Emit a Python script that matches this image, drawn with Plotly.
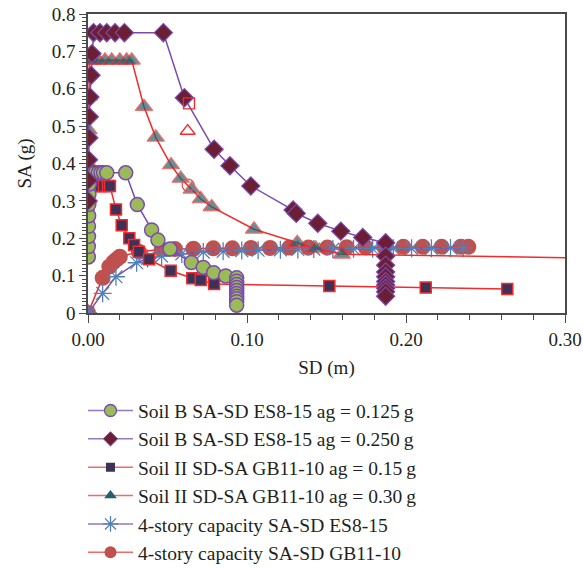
import plotly.graph_objects as go

# ---------------- data ----------------
# Soil B SA-SD ES8-15 ag = 0.125g
es125_sd = [0.0002, 0.0002, 0.0003, 0.0003, 0.0004, 0.0005, 0.0006, 0.0008, 0.0012,
            0.0025, 0.0045, 0.0065, 0.0082, 0.0098, 0.0118, 0.0237,
            0.031, 0.040, 0.044, 0.0516, 0.065, 0.0725, 0.079, 0.0866,
            0.0935, 0.0935, 0.0935, 0.0935, 0.0935, 0.0935, 0.0935, 0.0935, 0.0935, 0.0935]
es125_sa = [0.150, 0.178, 0.205, 0.232, 0.260, 0.290, 0.318, 0.345, 0.375,
            0.375, 0.375, 0.375, 0.375, 0.375, 0.375, 0.375,
            0.290, 0.222, 0.195, 0.171, 0.135, 0.122, 0.108, 0.099,
            0.094, 0.085, 0.076, 0.068, 0.060, 0.052, 0.045, 0.038, 0.030, 0.021]

# Soil B SA-SD ES8-15 ag = 0.250g
es250_sd = [0.0001, 0.0002, 0.0003, 0.0005, 0.0008, 0.0012, 0.0019, 0.0025,
            0.0035, 0.0075, 0.0118, 0.017, 0.0229, 0.0474,
            0.0606, 0.0793, 0.0893, 0.1024, 0.129, 0.131, 0.1445, 0.159, 0.1728,
            0.1872, 0.1872, 0.1872, 0.1872, 0.1872, 0.1872, 0.1872, 0.1872, 0.1872, 0.1872]
es250_sa = [0.300, 0.355, 0.410, 0.469, 0.525, 0.578, 0.636, 0.694,
            0.750, 0.750, 0.750, 0.750, 0.750, 0.750,
            0.576, 0.438, 0.394, 0.340, 0.2755, 0.2665, 0.240, 0.219, 0.202,
            0.188, 0.152, 0.128, 0.110, 0.097, 0.084, 0.075, 0.066, 0.057, 0.045]

# Soil II SD-SA GB11-10 ag = 0.15g
gb15_sd = [0.0001, 0.0001, 0.0002, 0.0002, 0.0003,
           0.002, 0.004, 0.006, 0.008, 0.010, 0.0125, 0.0138,
           0.0176, 0.0212, 0.026, 0.029, 0.032, 0.0384, 0.052, 0.0656, 0.0709, 0.0793,
           0.1518, 0.2124, 0.2637]
gb15_sa = [0.153, 0.200, 0.245, 0.290, 0.340,
           0.340, 0.340, 0.340, 0.340, 0.340, 0.340, 0.340,
           0.277, 0.235, 0.200, 0.182, 0.164, 0.1436, 0.113, 0.093, 0.088, 0.0775,
           0.072, 0.068, 0.064]

# Soil II SD-SA GB11-10 ag = 0.30g
gb30_sd = [0.0001, 0.0002, 0.0003, 0.0005, 0.0008,
           0.0033, 0.0065, 0.0107, 0.0149, 0.020, 0.0243, 0.0275,
           0.0352, 0.0426, 0.0522, 0.0583, 0.0652, 0.0709, 0.0778, 0.1044,
           0.1316, 0.1432, 0.1596, 0.30]
gb30_sa = [0.306, 0.400, 0.490, 0.580, 0.676,
           0.676, 0.676, 0.676, 0.676, 0.676, 0.676, 0.676,
           0.552, 0.470, 0.396, 0.360, 0.331, 0.305, 0.284, 0.224,
           0.188, 0.173, 0.157, 0.148]

# 4-story capacity SA-SD ES8-15
capes_sd = [0.0, 0.0092, 0.0176, 0.0306, 0.0375, 0.0463, 0.059,
            0.0725, 0.085, 0.0967, 0.107, 0.121, 0.132, 0.142, 0.154,
            0.167, 0.179, 0.192, 0.2035, 0.216, 0.228, 0.236]
capes_sa = [0.0, 0.0526, 0.097, 0.1345, 0.146, 0.152, 0.158,
            0.163, 0.165, 0.167, 0.168, 0.169, 0.170, 0.171, 0.171,
            0.172, 0.172, 0.173, 0.173, 0.173, 0.174, 0.174]

# 4-story capacity SA-SD GB11-10
capgb_sd = [0.0, 0.0092, 0.0134, 0.0159, 0.018, 0.020, 0.032, 0.0463, 0.0547,
            0.0663, 0.0788, 0.0908, 0.1025, 0.1145, 0.1266, 0.1386, 0.1505,
            0.1627, 0.1746, 0.1864, 0.1983, 0.2105, 0.2224, 0.2344, 0.2392]
capgb_sa = [0.0, 0.094, 0.124, 0.1355, 0.1436, 0.1505, 0.164, 0.170, 0.171,
            0.172, 0.173, 0.173, 0.174, 0.174, 0.175, 0.175, 0.175,
            0.176, 0.176, 0.176, 0.177, 0.177, 0.177, 0.177, 0.177]

# performance points (hollow markers)
perf_sq_sd, perf_sq_sa = [0.0635], [0.561]
perf_tri_sd, perf_tri_sa = [0.0627], [0.487]
perf_cir_sd, perf_cir_sa = [0.063], [0.342]

names = ["Soil B SA-SD ES8-15 ag = 0.125\u2009g",
         "Soil B SA-SD ES8-15 ag = 0.250\u2009g",
         "Soil II SD-SA GB11-10 ag = 0.15\u2009g",
         "Soil II SD-SA GB11-10 ag = 0.30\u2009g",
         "4-story capacity SA-SD ES8-15",
         "4-story capacity SA-SD GB11-10"]

x_tickvals = [0.0, 0.1, 0.2, 0.3]
x_ticktext = ["0.00", "0.10", "0.20", "0.30"]
y_tickvals = [0, 0.1, 0.2, 0.3, 0.4, 0.5, 0.6, 0.7, 0.8]
y_ticktext = ["0", "0.1", "0.2", "0.3", "0.4", "0.5", "0.6", "0.7", "0.8"]

# ---------------- styles ----------------
PURPLE = "#7A4BAE"
RED = "#F22B2B"
LEG_PURPLE = "#9479C0"
LEG_RED = "#F06A6A"
FONT = "Liberation Serif"

series = [
    # (x, y, name, line colour, marker dict for plot, legend marker dict, legend line colour)
    dict(x=capgb_sd, y=capgb_sa, idx=5, line=RED,
         marker=dict(symbol="circle", size=16, color="#C0504D", line=dict(width=0)),
         leg=dict(symbol="circle", size=12, color="#C0504D", line=dict(width=0)), lc=LEG_RED),
    dict(x=capes_sd, y=capes_sa, idx=4, line=PURPLE,
         marker=dict(symbol="asterisk-open", size=15, color="#4F81BD",
                     line=dict(color="#4F81BD", width=1.3)),
         leg=dict(symbol="asterisk-open", size=13, color="#4F81BD",
                  line=dict(color="#4F81BD", width=1.3)), lc=LEG_PURPLE),
    dict(x=gb15_sd, y=gb15_sa, idx=2, line=RED,
         marker=dict(symbol="square", size=11, color="#3E3158", line=dict(color=RED, width=1.5)),
         leg=dict(symbol="square", size=9, color="#3E3158", line=dict(width=0)), lc=LEG_RED),
    dict(x=es125_sd, y=es125_sa, idx=0, line=PURPLE,
         marker=dict(symbol="circle", size=14, color="#9BBB59", line=dict(color=PURPLE, width=1.5)),
         leg=dict(symbol="circle", size=12, color="#9BBB59", line=dict(color=PURPLE, width=1.3)),
         lc=LEG_PURPLE),
    dict(x=gb30_sd, y=gb30_sa, idx=3, line=RED,
         marker=dict(symbol="triangle-up", size=[15] * (len(gb30_sd) - 1) + [0],
                     color="#22616C", line=dict(color=RED, width=1.2)),
         leg=dict(symbol="triangle-up", size=11, color="#22616C", line=dict(width=0)), lc=LEG_RED),
    dict(x=es250_sd, y=es250_sa, idx=1, line=PURPLE,
         marker=dict(symbol="diamond", size=14, color="#6B1F35", line=dict(color=PURPLE, width=1.2)),
         leg=dict(symbol="diamond", size=11, color="#6B1F35", line=dict(color=PURPLE, width=1)),
         lc=LEG_PURPLE),
]

fig = go.Figure()

for s in series:
    fig.add_trace(go.Scatter(
        x=s["x"], y=s["y"], mode="lines+markers", showlegend=False,
        line=dict(color=s["line"], width=1.5), marker=s["marker"]))

fig.add_trace(go.Scatter(
    x=perf_sq_sd, y=perf_sq_sa, mode="markers", showlegend=False,
    marker=dict(symbol="square-open", size=11, color=RED, line=dict(width=1.3))))
fig.add_trace(go.Scatter(
    x=perf_tri_sd, y=perf_tri_sa, mode="markers", showlegend=False,
    marker=dict(symbol="triangle-up-open", size=13, color=RED, line=dict(width=1.3))))
fig.add_trace(go.Scatter(
    x=perf_cir_sd, y=perf_cir_sa, mode="markers", showlegend=False,
    marker=dict(symbol="circle-open", size=12, color="#D06060", line=dict(width=1.3))))

# legend entries (no data, legend styling only)
for s in sorted(series, key=lambda d: d["idx"]):
    fig.add_trace(go.Scatter(
        x=[None], y=[None], mode="lines+markers", name=names[s["idx"]],
        legendrank=s["idx"] + 1,
        line=dict(color=s["lc"], width=1.5), marker=s["leg"]))

axis_common = dict(
    showline=True, linecolor="#4A4A4A", linewidth=1.5, mirror=True,
    showgrid=False, zeroline=False, ticks="outside", tickcolor="#4A4A4A",
    tickwidth=1, tickfont=dict(family=FONT, size=19, color="#231F20"),
)

fig.update_xaxes(
    range=[0, 0.30], tickmode="array", tickvals=x_tickvals, ticktext=x_ticktext,
    ticklen=8,
    minor=dict(dtick=0.02, ticks="outside", ticklen=5, tickcolor="#4A4A4A", tickwidth=1),
    title=dict(text="SD (m)", font=dict(family=FONT, size=19, color="#231F20"), standoff=12),
    **axis_common)
fig.update_yaxes(
    range=[0, 0.8], tickmode="array", tickvals=y_tickvals, ticktext=y_ticktext,
    ticklen=7,
    minor=dict(dtick=0.01, ticks="outside", ticklen=4, tickcolor="#4A4A4A", tickwidth=1),
    title=dict(text="SA (g)", font=dict(family=FONT, size=19, color="#231F20")),
    **axis_common)

fig.update_layout(
    width=583, height=569,
    margin=dict(l=88, r=18, t=14, b=256, autoexpand=False),
    paper_bgcolor="white", plot_bgcolor="white",
    showlegend=True,
    legend=dict(x=-0.0105, y=-0.262, xanchor="left", yanchor="top",
                font=dict(family=FONT, size=19.5, color="#231F20"),
                bgcolor="rgba(0,0,0,0)", itemwidth=45, tracegroupgap=0),
    font=dict(family=FONT),
)

fig.write_html("out.html")
